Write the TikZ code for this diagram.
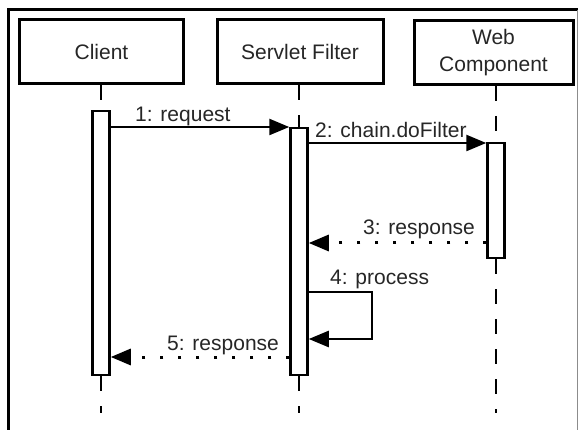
\documentclass[tikz,border=0pt]{standalone}
\usepackage{fontspec}
\setmainfont{Liberation Sans}
\usetikzlibrary{arrows.meta}
\begin{document}
\begin{tikzpicture}[x=1pt,y=-1pt,
  obj/.style={draw,line width=3pt,minimum height=64pt,align=center,
    font=\fontsize{21}{27}\selectfont,text=black!85,inner sep=0},
  actbar/.style={draw,fill=white,line width=2.5pt,minimum width=17pt,inner sep=0},
  life/.style={line width=2.5pt,dash pattern=on 15pt off 15pt},
  msg/.style={line width=2.5pt,-{Triangle[length=20pt,width=16pt]}},
  reply/.style={line width=3pt,dash pattern=on 3pt off 15pt,
    -{Triangle[length=20pt,width=16pt]}},
  lbl/.style={font=\fontsize{21}{27}\selectfont,text=black!85,inner sep=0,anchor=base west}]
\useasboundingbox (0,0) rectangle (578,430);
% frame
\draw[line width=3pt] (8.5,440) -- (8.5,10) -- (578,10);
\draw[black!45,line width=1pt] (577,10) -- (577,440);
% objects
\node[obj,minimum width=164pt] (client) at (101.5,52) {Client};
\node[obj,minimum width=166pt] (filter) at (300,52) {Servlet Filter};
\node[obj,minimum width=159pt] (web) at (493.5,52.5) {Web\\Component};
% activation bars
\node[actbar,minimum height=264pt] (cbar) at (101,243) {};
\node[actbar,minimum height=247pt] (sbar) at (299,251.5) {};
\node[actbar,minimum height=115pt] (wbar) at (496,200.5) {};
% lifeline ends
\coordinate (cend) at (101,413);
\coordinate (send) at (299,413);
\coordinate (wend) at (496,413);
\draw[life] (cbar.north |- client.south) -- (cbar.north);
\draw[life] (cbar.south) -- (cend);
\draw[life] (sbar.north |- filter.south) -- (sbar.north);
\draw[life] (sbar.south) -- (send);
\draw[life] (wbar.north |- web.south) -- (wbar.north);
\draw[life] (wbar.south) -- (wend);
% message levels
\coordinate (y1) at (0,127);
\coordinate (y2) at (0,143);
\coordinate (y3) at (0,243);
\coordinate (y4a) at (0,292);
\coordinate (y4b) at (0,339);
\coordinate (y5) at (0,357);
\coordinate (loopx) at (372,0);
% messages
\draw[msg] (cbar.east |- y1) -- (sbar.west |- y1);
\draw[msg] (sbar.east |- y2) -- (wbar.west |- y2);
\draw[reply] (wbar.west |- y3) -- (sbar.east |- y3);
\draw[msg] (sbar.east |- y4a) -| (loopx |- y4b) -- (sbar.east |- y4b);
\draw[reply] (sbar.west |- y5) -- (cbar.east |- y5);
% labels
\node[lbl] (l1) at (135,122) {1: request};
\node[lbl] (l2) at (315,138) {2: chain.doFilter};
\node[lbl] (l3) at (363,235) {3: response};
\node[lbl] (l4) at (330,284) {4: process};
\node[lbl] (l5) at (167,350) {5: response};
\end{tikzpicture}
\end{document}
